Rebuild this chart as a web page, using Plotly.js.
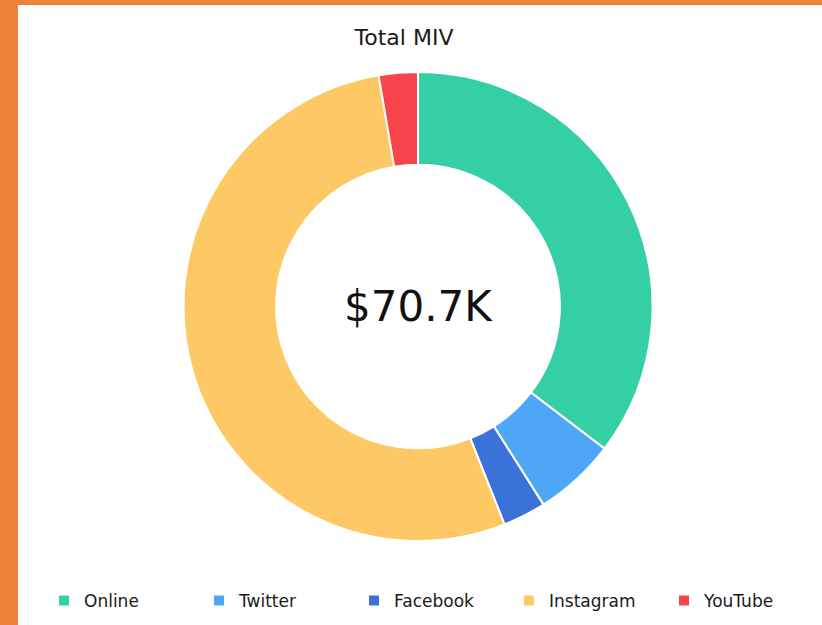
<!DOCTYPE html>
<html>
<head>
<meta charset="utf-8">
<script src="https://cdn.plot.ly/plotly-3.0.1.min.js"></script>
<style>
  html, body { margin: 0; padding: 0; background: #F0823A; width: 822px; height: 625px; overflow: hidden; }
  #chart { position: absolute; left: 18px; top: 5px; width: 804px; height: 620px; background: #ffffff; }
</style>
</head>
<body>
<div id="chart"></div>
<script>
const categories = ["Online", "Twitter", "Facebook", "Instagram", "YouTube"];
const values = [25.0, 4.0, 2.1, 37.7, 1.9];   // $K
const colors = ["#35CFA5", "#4DA6F6", "#3A72DA", "#FEC864", "#F9444B"];
const titleText = "Total MIV";
const centerText = "$70.7K";

const trace = {
  type: "pie",
  labels: categories,
  values: values,
  hole: 0.605,
  sort: false,
  direction: "clockwise",
  rotation: 0,
  textinfo: "none",
  hoverinfo: "label+value",
  marker: { colors: colors, line: { color: "#ffffff", width: 2 } }
};

const layout = {
  width: 804,
  height: 620,
  paper_bgcolor: "#ffffff",
  plot_bgcolor: "#ffffff",
  margin: { l: 0, r: 4, t: 67, b: 84 },
  font: { family: "DejaVu Sans, sans-serif", color: "#1a1a1a" },
  title: {
    text: titleText,
    font: { family: "DejaVu Sans, sans-serif", size: 22, color: "#1a1a1a" },
    xref: "container", x: 386 / 804, xanchor: "center",
    yref: "container", y: 1 - 32 / 620, yanchor: "middle"
  },
  showlegend: true,
  legend: {
    orientation: "h",
    xref: "container", x: 26 / 804, xanchor: "left",
    yref: "container", y: 1 - 596 / 620, yanchor: "middle",
    font: { family: "DejaVu Sans, sans-serif", size: 17, color: "#1a1a1a" },
    entrywidth: 110,
    entrywidthmode: "pixels",
    traceorder: "normal"
  },
  annotations: [{
    text: centerText,
    xref: "paper", yref: "paper", x: 0.5, y: 0.5,
    xanchor: "center", yanchor: "middle",
    showarrow: false,
    font: { family: "DejaVu Sans, sans-serif", size: 42, color: "#111111" }
  }]
};

Plotly.newPlot("chart", [trace], layout, { displayModeBar: false, staticPlot: true });
</script>
</body>
</html>
